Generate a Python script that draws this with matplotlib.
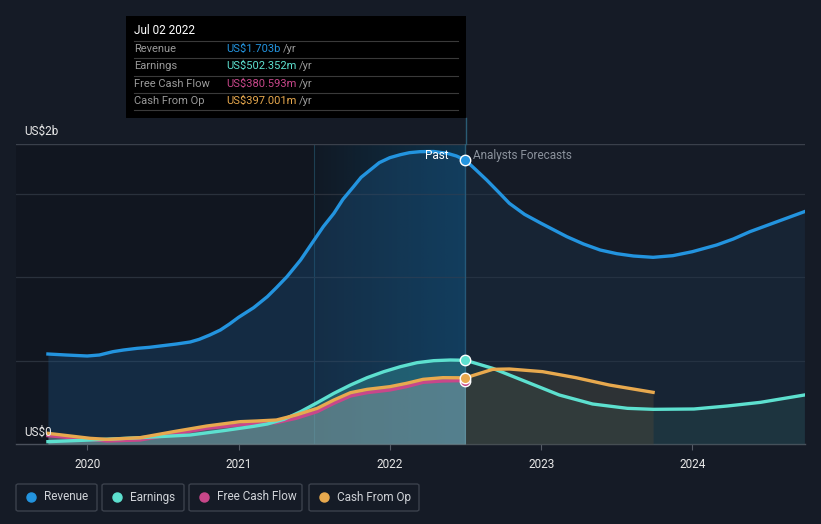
import numpy as np
import matplotlib
matplotlib.use('Agg')
import matplotlib.pyplot as plt
from matplotlib.patches import Rectangle, FancyBboxPatch
from matplotlib.lines import Line2D

plt.rcParams['font.family'] = ['Roboto', 'DejaVu Sans']

# values (x in decimal years, revenue in US$b, others in US$m)
rev_past_x = [2019.74, 2019.86, 2020.0, 2020.08, 2020.17, 2020.24, 2020.33, 2020.41, 2020.50,
              2020.59, 2020.68, 2020.74, 2020.81, 2020.88, 2020.94, 2021.0, 2021.10, 2021.19,
              2021.25, 2021.32, 2021.41, 2021.50, 2021.56, 2021.63, 2021.69, 2021.76, 2021.81,
              2021.87, 2021.93, 2022.0, 2022.07, 2022.13, 2022.20, 2022.29, 2022.38, 2022.44,
              2022.5]
rev_past_y = [0.540, 0.534, 0.528, 0.534, 0.554, 0.564, 0.574, 0.580, 0.590,
              0.600, 0.612, 0.628, 0.654, 0.684, 0.720, 0.760, 0.818, 0.884,
              0.938, 1.004, 1.104, 1.224, 1.304, 1.384, 1.468, 1.544, 1.600,
              1.644, 1.688, 1.718, 1.736, 1.748, 1.754, 1.755, 1.744, 1.728,
              1.703]
rev_fc_x = [2022.5, 2022.57, 2022.64, 2022.72, 2022.79, 2022.89, 2023.0, 2023.17, 2023.28,
            2023.39, 2023.50, 2023.61, 2023.74, 2023.87, 2024.0, 2024.16, 2024.27, 2024.38,
            2024.56, 2024.74]
rev_fc_y = [1.703, 1.644, 1.584, 1.510, 1.444, 1.378, 1.324, 1.244, 1.200,
            1.164, 1.142, 1.128, 1.120, 1.130, 1.154, 1.194, 1.230, 1.274,
            1.334, 1.394]

earn_past_x = [2019.74, 2020.02, 2020.35, 2020.68, 2020.90, 2021.10, 2021.19, 2021.30, 2021.41,
               2021.52, 2021.63, 2021.74, 2021.85, 2021.96, 2022.07, 2022.18, 2022.29, 2022.40,
               2022.5]
earn_past_y = [14, 24, 38, 54, 80, 106, 120, 148, 194,
               248, 304, 354, 398, 434, 464, 488, 500, 504,
               502.352]
earn_fc_x = [2022.5, 2022.68, 2022.90, 2023.12, 2023.34, 2023.57, 2023.74, 2024.01,
             2024.23, 2024.45, 2024.74]
earn_fc_y = [502.352, 454, 374, 294, 240, 214, 208, 210, 228, 250, 294]

cfo_past_x = [2019.74, 2020.02, 2020.13, 2020.35, 2020.57, 2020.79, 2021.01, 2021.12, 2021.25,
              2021.38, 2021.52, 2021.63, 2021.74, 2021.85, 2022.0, 2022.11, 2022.22, 2022.35,
              2022.5]
cfo_past_y = [64, 34, 28, 38, 74, 108, 134, 138, 144,
              174, 214, 264, 308, 328, 344, 364, 388, 398,
              397.001]
cfo_fc_x = [2022.5, 2022.68, 2022.79, 2023.01, 2023.23, 2023.45, 2023.74]
cfo_fc_y = [397.001, 448, 450, 434, 398, 354, 310]

fcf_past_x = [2019.74, 2020.13, 2020.35, 2020.79, 2021.12, 2021.25, 2021.38, 2021.52, 2021.63,
              2021.74, 2021.85, 2022.0, 2022.11, 2022.22, 2022.35, 2022.5]
fcf_past_y = [50, 18, 24, 94, 124, 128, 154, 194, 244,
              288, 308, 324, 344, 370, 378, 380.593]

years = [2020, 2021, 2022, 2023, 2024]
series_names = ['Revenue', 'Earnings', 'Free Cash Flow', 'Cash From Op']
series_values = ['US$1.703b', 'US$502.352m', 'US$380.593m', 'US$397.001m']

BG = '#151b26'
C_REV = '#2394df'
C_EARN = '#5de0cf'
C_FCF = '#c8478a'
C_CFO = '#e8a94e'
colors = [C_REV, C_EARN, C_FCF, C_CFO]

def m(vals):
    return [v / 1000 for v in vals]

fig = plt.figure(figsize=(8.21, 5.24), dpi=100, facecolor=BG)
ax = fig.add_axes([16 / 821, 80 / 524, 789 / 821, 300 / 524])
ax.set_facecolor(BG)
ax.set_xlim(2019.529, 2024.744)
ax.set_ylim(0, 1.8)

# past region darker
ax.axvspan(2019.529, 2022.5, color='#0b0f16', alpha=0.35, lw=0, zorder=0)
# last-year highlight: gradient from left to right
grad = np.zeros((2, 256, 4))
grad[..., :3] = matplotlib.colors.to_rgb('#0a5a85')
grad[..., 3] = np.linspace(0.05, 0.42, 256)
ax.imshow(grad, extent=[2021.5, 2022.5, 0, 1.8], aspect='auto', zorder=0.5,
          interpolation='bilinear')
ax.axvline(2021.5, color='#1d3f52', lw=0.8, zorder=0.6)

for g in [0.5, 1.0, 1.5]:
    ax.axhline(g, color='#2a313c', lw=0.9, zorder=1)
ax.axhline(1.8, color='#3a404b', lw=1.0, zorder=1)

# revenue fill
ax.fill_between(rev_past_x, 0, rev_past_y, color='#1c5585', alpha=0.35, lw=0, zorder=2)
ax.fill_between(rev_fc_x, 0, rev_fc_y, color='#1c3550', alpha=0.35, lw=0, zorder=2)

# lower series fills
ax.fill_between(earn_past_x, 0, m(earn_past_y), color='#3fb3b0', alpha=0.32, lw=0, zorder=3)
ax.fill_between(cfo_past_x, 0, m(cfo_past_y), color='#b8b8b8', alpha=0.35, lw=0, zorder=3)
ax.fill_between(earn_fc_x, 0, m(earn_fc_y), color='#2c5a5a', alpha=0.30, lw=0, zorder=3)
ax.fill_between(cfo_fc_x, 0, m(cfo_fc_y), color='#4a4438', alpha=0.45, lw=0, zorder=3)

lw = 2.4
ax.plot(rev_past_x + rev_fc_x[1:], rev_past_y + rev_fc_y[1:], color=C_REV, lw=lw, zorder=6,
        solid_joinstyle='round')
ax.plot(earn_past_x + earn_fc_x[1:], m(earn_past_y + earn_fc_y[1:]), color=C_EARN, lw=lw,
        zorder=5, solid_joinstyle='round')
ax.plot(fcf_past_x, m(fcf_past_y), color=C_FCF, lw=lw, zorder=4, solid_joinstyle='round')
ax.plot(cfo_past_x + cfo_fc_x[1:], m(cfo_past_y + cfo_fc_y[1:]), color=C_CFO, lw=lw, zorder=5,
        solid_joinstyle='round')

# markers at the split date
for yv, c in [(rev_past_y[-1], C_REV), (earn_past_y[-1] / 1000, C_EARN),
              (fcf_past_y[-1] / 1000, C_FCF), (cfo_past_y[-1] / 1000, C_CFO)]:
    ax.plot([2022.5], [yv], 'o', ms=7.5, mfc=c, mec='white', mew=1.0, zorder=8)

# split line
ax.axvline(2022.5, color='#2a5c74', lw=1.0, zorder=1.5)
fig.add_artist(Line2D([465.5 / 821, 465.5 / 821], [380 / 524, 406 / 524], color='#2a5c74', lw=1.0))

ax.text(2022.39, 1.73, 'Past', color='white', fontsize=8.5, ha='right', va='center', zorder=9)
ax.text(2022.55, 1.73, 'Analysts Forecasts', color='#8b929c', fontsize=8.5, ha='left',
        va='center', zorder=9)

ax.set_xticks(years)
ax.set_xticklabels([str(y) for y in years], color='#e8e8e8', fontsize=8.5)
ax.set_yticks([])
ax.tick_params(axis='x', length=4, color='#555b66', pad=6)
for s in ['top', 'right', 'left']:
    ax.spines[s].set_visible(False)
ax.spines['bottom'].set_color('#4a505b')
ax.spines['bottom'].set_linewidth(1.0)

fig.text(24 / 821, 1 - 131 / 524, 'US$2b', color='#e8e8e8', fontsize=8.5, va='center')
fig.text(24 / 821, 1 - 432 / 524, 'US$0', color='#e8e8e8', fontsize=8.5, va='center')

# tooltip box
fig.add_artist(Rectangle((126 / 821, 1 - 118 / 524), 340 / 821, 102 / 524,
                         transform=fig.transFigure, facecolor='black', edgecolor='none'))
fig.text(134 / 821, 1 - 31 / 524, 'Jul 02 2022', color='white', fontsize=8.5, va='center')
row_y = [49, 66, 84, 101]
for i, (name, val) in enumerate(zip(series_names, series_values)):
    yy = 1 - row_y[i] / 524
    fig.add_artist(Line2D([134 / 821, 458 / 821], [1 - (row_y[i] - 8.5) / 524] * 2,
                          color='#3a3a3a', lw=0.8))
    fig.text(134 / 821, yy, name, color='#9a9a9a', fontsize=8, va='center')
    t = fig.text(226 / 821, yy, val, color=colors[i], fontsize=8, va='center')
    fig.canvas.draw()
    bb = t.get_window_extent()
    fig.text((bb.x1 + 3) / 821, yy, '/yr', color='#9a9a9a', fontsize=8, va='center')
fig.add_artist(Line2D([134 / 821, 458 / 821], [1 - 110 / 524] * 2, color='#3a3a3a', lw=0.8))

# legend boxes
box_x = [16, 102, 189, 309]
box_w = [81, 82, 113, 110]
for name, c, bx, bw in zip(series_names, colors, box_x, box_w):
    fig.add_artist(FancyBboxPatch((bx / 821, 1 - 511 / 524), bw / 821, 27 / 524,
                                  boxstyle='round,pad=0,rounding_size=0.003',
                                  transform=fig.transFigure, facecolor='none',
                                  edgecolor='#3b414c', lw=1.0))
    fig.add_artist(Line2D([(bx + 15) / 821], [1 - 497 / 524], marker='o', ms=6.5, color=c,
                          mec=c, lw=0))
    fig.text((bx + 28) / 821, 1 - 497 / 524, name, color='#d0d3d8', fontsize=8.5, va='center')

fig.savefig('out.png', dpi=100, facecolor=BG)
